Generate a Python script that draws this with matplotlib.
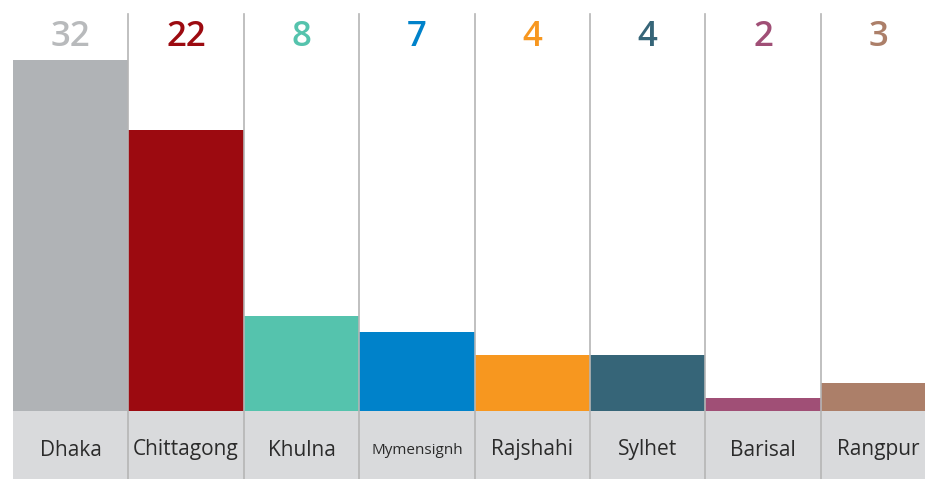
import matplotlib.pyplot as plt

# Data
divisions = ["Dhaka", "Chittagong", "Khulna", "Mymensignh", "Rajshahi", "Sylhet", "Barisal", "Rangpur"]
counts = [32, 22, 8, 7, 4, 4, 2, 3]
# bar heights as drawn in the picture (not proportional to the counts)
bar_heights = [35.1, 28.1, 9.5, 7.9, 5.6, 5.6, 1.3, 2.8]
bar_colors = ["#b0b3b6", "#9c0a10", "#55c3ad", "#0082ca", "#f7971f", "#366578", "#a04f76", "#ac7f69"]
num_colors = ["#b8babc", "#9c0a10", "#55c3ad", "#0082ca", "#f7971f", "#366578", "#a04f76", "#ac7f69"]

plt.rcParams['font.family'] = ['Open Sans', 'DejaVu Sans']

fig = plt.figure(figsize=(9.25, 4.79), dpi=100)
ax = fig.add_axes([0, 0, 1, 1])

x = range(len(divisions))
band = -6.8

# grey label band
ax.bar(x, [-band] * len(divisions), bottom=band, width=1, align="edge", color="#d9dadc", linewidth=0)
ax.bar(x, bar_heights, width=1, align="edge", color=bar_colors, linewidth=0)

# separators
for i in range(1, len(divisions)):
    ax.plot([i, i], [band, 39.7], color="#b5b5b5", linewidth=1.2, zorder=3)

for i, (name, c) in enumerate(zip(divisions, counts)):
    ax.text(i + 0.5, 37.4, str(c), ha="center", va="center", fontsize=25,
            fontweight="semibold", color=num_colors[i])
    fs = 11 if name == "Mymensignh" else 15
    ax.text(i + 0.5, -3.9, name, ha="center", va="center", fontsize=fs, color="#2b2b2b")

ax.set_xlim(-13 / 115.4, (925 - 13) / 115.4)
ax.set_ylim(band, 47.9 + band)
ax.axis("off")

fig.savefig("out.png", dpi=100)
